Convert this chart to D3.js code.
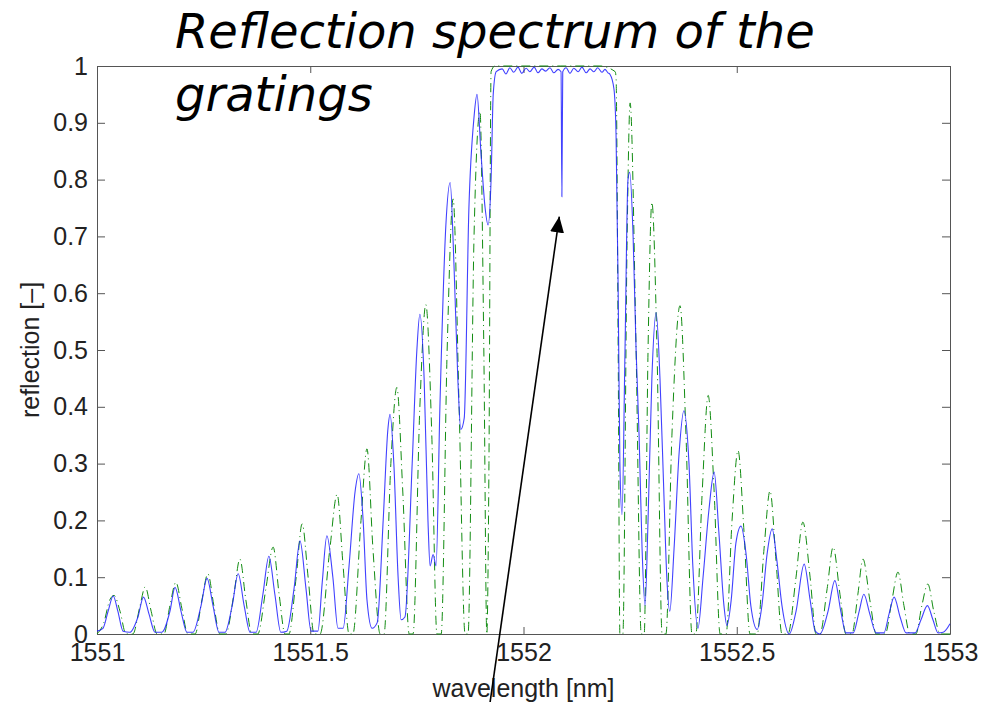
<!DOCTYPE html>
<html>
<head>
<meta charset="utf-8">
<script src="https://cdn.jsdelivr.net/npm/d3@7"></script>
<style>
  html, body { margin: 0; padding: 0; background: #fff; }
  svg { display: block; }
</style>
</head>
<body>
<div id="chart"></div>
<script>
// measured spectrum (blue, solid)
const blueWl = [
  1551.000, 1551.014, 1551.026, 1551.038, 1551.049, 1551.061, 1551.077, 1551.096, 1551.109, 1551.122,
  1551.136, 1551.152, 1551.171, 1551.183, 1551.197, 1551.211, 1551.225, 1551.244, 1551.258, 1551.272,
  1551.286, 1551.300, 1551.317, 1551.331, 1551.345, 1551.359, 1551.373, 1551.389, 1551.403, 1551.417,
  1551.431, 1551.445, 1551.462, 1551.476, 1551.490, 1551.502, 1551.518, 1551.528, 1551.539, 1551.553,
  1551.565, 1551.577, 1551.591, 1551.605, 1551.614, 1551.624, 1551.633, 1551.645, 1551.657, 1551.671,
  1551.682, 1551.687, 1551.696, 1551.706, 1551.713, 1551.722, 1551.739, 1551.750, 1551.757, 1551.767,
  1551.776, 1551.781, 1551.788, 1551.795, 1551.804, 1551.818, 1551.828, 1551.837, 1551.846, 1551.853,
  1551.861, 1551.872, 1551.884, 1551.891, 1551.900, 1551.910, 1551.917, 1551.924, 1551.929,
  // stop band
  1551.936, 1551.950, 1551.959, 1551.968, 1551.977, 1551.987, 1551.996, 1552.006,
  1552.015, 1552.025, 1552.034, 1552.043, 1552.052, 1552.062, 1552.071, 1552.081,
  1552.088, 1552.090, 1552.092, 1552.100, 1552.109, 1552.118, 1552.128, 1552.137,
  1552.147, 1552.156, 1552.165, 1552.174, 1552.184, 1552.191, 1552.198, 1552.203,
  // right side lobes
  1552.212, 1552.217, 1552.222, 1552.226, 1552.231, 1552.238, 1552.245, 1552.249, 1552.257, 1552.264,
  1552.271, 1552.278, 1552.285, 1552.292, 1552.301, 1552.311, 1552.320, 1552.329, 1552.336, 1552.343,
  1552.353, 1552.365, 1552.376, 1552.388, 1552.397, 1552.409, 1552.421, 1552.435, 1552.447, 1552.458,
  1552.470, 1552.477, 1552.487, 1552.498, 1552.510, 1552.522, 1552.533, 1552.548, 1552.559, 1552.571,
  1552.583, 1552.594, 1552.606, 1552.623, 1552.639, 1552.658, 1552.672, 1552.684, 1552.695, 1552.714,
  1552.730, 1552.744, 1552.756, 1552.773, 1552.787, 1552.798, 1552.812, 1552.827, 1552.845, 1552.857,
  1552.869, 1552.883, 1552.897, 1552.918, 1552.932, 1552.947, 1552.960, 1552.972, 1552.984, 1553.000
];
const blueR = [
  0.005, 0.010, 0.040, 0.067, 0.040, 0.005, 0.003, 0.030, 0.065, 0.035,
  0.003, 0.003, 0.040, 0.082, 0.040, 0.003, 0.003, 0.050, 0.098, 0.050,
  0.003, 0.003, 0.050, 0.106, 0.050, 0.003, 0.003, 0.070, 0.137, 0.070,
  0.003, 0.005, 0.080, 0.164, 0.080, 0.005, 0.005, 0.090, 0.173, 0.100,
  0.010, 0.010, 0.120, 0.250, 0.282, 0.200, 0.060, 0.010, 0.020, 0.200,
  0.360, 0.387, 0.300, 0.100, 0.025, 0.030, 0.300, 0.500, 0.563, 0.450,
  0.200, 0.120, 0.140, 0.120, 0.400, 0.720, 0.795, 0.650, 0.450, 0.360,
  0.380, 0.750, 0.910, 0.950, 0.850, 0.750, 0.720, 0.800, 0.950,
  // stop band
  0.990, 0.995, 0.986, 0.997, 0.989, 0.998, 0.987, 0.996,
  0.990, 0.998, 0.988, 0.995, 0.991, 0.997, 0.988, 0.994,
  0.990, 0.770, 0.990, 0.997, 0.987, 0.996, 0.990, 0.998,
  0.988, 0.995, 0.990, 0.997, 0.989, 0.994, 0.988, 0.985,
  // right side lobes
  0.960, 0.880, 0.600, 0.300, 0.210, 0.500, 0.800, 0.813, 0.700, 0.500,
  0.350, 0.150, 0.050, 0.200, 0.450, 0.566, 0.450, 0.250, 0.100, 0.040,
  0.150, 0.320, 0.393, 0.300, 0.120, 0.010, 0.100, 0.220, 0.285, 0.180,
  0.050, 0.015, 0.060, 0.160, 0.190, 0.140, 0.050, 0.008, 0.050, 0.140,
  0.185, 0.130, 0.050, 0.000, 0.040, 0.123, 0.060, 0.005, 0.000, 0.040,
  0.094, 0.040, 0.002, 0.002, 0.040, 0.070, 0.035, 0.002, 0.002, 0.035,
  0.065, 0.030, 0.002, 0.002, 0.025, 0.050, 0.025, 0.002, 0.003, 0.018
];

// simulated spectrum (green, dash-dot)
const greenWl = [
  1551.000, 1551.016, 1551.030, 1551.040, 1551.054, 1551.068, 1551.084, 1551.101, 1551.113, 1551.127,
  1551.141, 1551.157, 1551.171, 1551.185, 1551.199, 1551.213, 1551.230, 1551.246, 1551.260, 1551.274,
  1551.288, 1551.302, 1551.321, 1551.335, 1551.349, 1551.363, 1551.377, 1551.396, 1551.413, 1551.427,
  1551.441, 1551.450, 1551.467, 1551.481, 1551.495, 1551.509, 1551.523, 1551.546, 1551.563, 1551.577,
  1551.591, 1551.600, 1551.619, 1551.633, 1551.647, 1551.664, 1551.673, 1551.689, 1551.703, 1551.717,
  1551.732, 1551.741, 1551.757, 1551.771, 1551.785, 1551.797, 1551.807, 1551.821, 1551.835, 1551.849,
  1551.863, 1551.870, 1551.884, 1551.898, 1551.907, 1551.914, 1551.919, 1551.924, 1551.933, 1551.992,
  1552.086, 1552.179, 1552.215, 1552.217, 1552.222, 1552.226, 1552.233, 1552.243, 1552.250, 1552.264,
  1552.276, 1552.283, 1552.292, 1552.301, 1552.313, 1552.325, 1552.334, 1552.348, 1552.367, 1552.381,
  1552.395, 1552.404, 1552.419, 1552.433, 1552.447, 1552.461, 1552.475, 1552.489, 1552.503, 1552.517,
  1552.531, 1552.548, 1552.564, 1552.578, 1552.592, 1552.606, 1552.620, 1552.639, 1552.655, 1552.672,
  1552.686, 1552.695, 1552.712, 1552.726, 1552.742, 1552.756, 1552.770, 1552.784, 1552.796, 1552.812,
  1552.827, 1552.848, 1552.864, 1552.878, 1552.892, 1552.906, 1552.920, 1552.934, 1552.948, 1552.962,
  1552.977, 1553.000
];
const greenR = [
  0.000, 0.020, 0.060, 0.068, 0.040, 0.000, 0.000, 0.050, 0.083, 0.040,
  0.000, 0.000, 0.050, 0.091, 0.045, 0.000, 0.000, 0.060, 0.106, 0.050,
  0.000, 0.000, 0.070, 0.132, 0.060, 0.000, 0.000, 0.080, 0.153, 0.070,
  0.000, 0.000, 0.100, 0.194, 0.100, 0.000, 0.000, 0.150, 0.246, 0.120,
  0.000, 0.000, 0.200, 0.326, 0.150, 0.000, 0.000, 0.300, 0.434, 0.250,
  0.000, 0.000, 0.400, 0.580, 0.350, 0.000, 0.000, 0.500, 0.766, 0.400,
  0.000, 0.000, 0.700, 0.920, 0.500, 0.000, 0.300, 0.990, 1.000, 1.000,
  1.000, 1.000, 0.990, 0.980, 0.500, 0.000, 0.000, 0.700, 0.935, 0.500,
  0.000, 0.000, 0.500, 0.760, 0.500, 0.000, 0.000, 0.350, 0.578, 0.350,
  0.000, 0.000, 0.250, 0.420, 0.250, 0.000, 0.000, 0.200, 0.323, 0.180,
  0.000, 0.000, 0.150, 0.252, 0.130, 0.000, 0.000, 0.100, 0.197, 0.100,
  0.000, 0.000, 0.080, 0.153, 0.070, 0.000, 0.000, 0.070, 0.132, 0.060,
  0.000, 0.000, 0.060, 0.109, 0.050, 0.000, 0.000, 0.050, 0.088, 0.040,
  0.000, 0.000
];

const xTicks = [1551, 1551.5, 1552, 1552.5, 1553];
const yTicks = [0, 0.1, 0.2, 0.3, 0.4, 0.5, 0.6, 0.7, 0.8, 0.9, 1];
const titleLines = ['Reflection spectrum of the', 'gratings'];
const xLabel = 'wavelength [nm]';
const yLabel = 'reflection [–]';
// arrow pointing at the dip in the stop band: [tail, tip] as [nm, reflection]
const arrowFrom = [1551.919, -0.134];
const arrowTo = [1552.084, 0.735];

const width = 994;
const height = 702;
const margin = { top: 66, right: 44, bottom: 68, left: 97 };
const w = width - margin.left - margin.right;
const h = height - margin.top - margin.bottom;

const svg = d3.select('#chart').append('svg')
    .attr('width', width)
    .attr('height', height)
    .attr('viewBox', [0, 0, width, height]);

svg.append('rect')
  .attr('width', width)
  .attr('height', height)
  .attr('fill', '#fff');

const x = d3.scaleLinear().domain([1551, 1553]).range([margin.left, margin.left + w]);
const y = d3.scaleLinear().domain([0, 1]).range([margin.top + h, margin.top]);

const axisColor = '#555';
const tickFont = '25px "Liberation Sans", Arial, Helvetica, sans-serif';

const styleAxis = g => {
  g.select('.domain').attr('stroke', axisColor);
  g.selectAll('.tick line').attr('stroke', axisColor);
  g.selectAll('.tick text').attr('fill', '#222').style('font', tickFont);
};

svg.append('g')
  .attr('transform', `translate(0,${margin.top + h})`)
  .call(d3.axisBottom(x).tickValues(xTicks).tickFormat(d3.format('')).tickSize(-7).tickSizeOuter(0).tickPadding(9))
  .call(styleAxis);

svg.append('g')
  .attr('transform', `translate(0,${margin.top})`)
  .call(d3.axisTop(x).tickValues(xTicks).tickFormat('').tickSize(-7).tickSizeOuter(0))
  .call(styleAxis);

svg.append('g')
  .attr('transform', `translate(${margin.left},0)`)
  .call(d3.axisLeft(y).tickValues(yTicks).tickFormat(d3.format('')).tickSize(-8).tickSizeOuter(0).tickPadding(9))
  .call(styleAxis);

svg.append('g')
  .attr('transform', `translate(${margin.left + w},0)`)
  .call(d3.axisRight(y).tickValues(yTicks).tickFormat('').tickSize(-8).tickSizeOuter(0))
  .call(styleAxis);

// lines
const line = d3.line()
  .x(d => x(d[0]))
  .y(d => y(d[1]))
  .curve(d3.curveMonotoneX);

const plot = svg.append('g');

plot.append('path')
  .datum(greenWl.map((d, i) => [d, greenR[i]]))
  .attr('d', line)
  .attr('fill', 'none')
  .attr('stroke', '#128c12')
  .attr('stroke-width', 1)
  .attr('stroke-dasharray', '9,4,1,4');

plot.append('path')
  .datum(blueWl.map((d, i) => [d, blueR[i]]))
  .attr('d', line)
  .attr('fill', 'none')
  .attr('stroke', '#2020ff')
  .attr('stroke-width', 1.1)
  .attr('stroke-opacity', 0.85);

// axis labels
svg.append('text')
  .attr('x', x(1552))
  .attr('y', 697)
  .attr('text-anchor', 'middle')
  .attr('fill', '#222')
  .style('font', '25px "Liberation Sans", Arial, sans-serif')
  .text(xLabel);

svg.append('text')
  .attr('transform', `translate(39,${y(0.5)}) rotate(-90)`)
  .attr('text-anchor', 'middle')
  .attr('fill', '#222')
  .style('font', '25px "Liberation Sans", Arial, sans-serif')
  .text(yLabel);

// title, drawn over the plot
svg.append('text')
  .attr('x', 175)
  .attr('y', 48)
  .attr('fill', '#000')
  .style('font', 'italic 48px "DejaVu Sans", sans-serif')
  .selectAll('tspan')
  .data(titleLines)
  .enter().append('tspan')
    .attr('x', 175)
    .attr('dy', (d, i) => i ? 63 : 0)
    .text(d => d);

// arrow
svg.append('defs').append('marker')
    .attr('id', 'head')
    .attr('viewBox', '0 0 16 14')
    .attr('refX', 16)
    .attr('refY', 7)
    .attr('markerWidth', 16)
    .attr('markerHeight', 14)
    .attr('markerUnits', 'userSpaceOnUse')
    .attr('orient', 'auto')
  .append('path')
    .attr('d', 'M0,0L16,7L0,14Z')
    .attr('fill', '#000');

svg.append('line')
  .attr('x1', x(arrowFrom[0]))
  .attr('y1', y(arrowFrom[1]))
  .attr('x2', x(arrowTo[0]))
  .attr('y2', y(arrowTo[1]))
  .attr('stroke', '#000')
  .attr('stroke-width', 1.6)
  .attr('marker-end', 'url(#head)');
</script>
</body>
</html>
